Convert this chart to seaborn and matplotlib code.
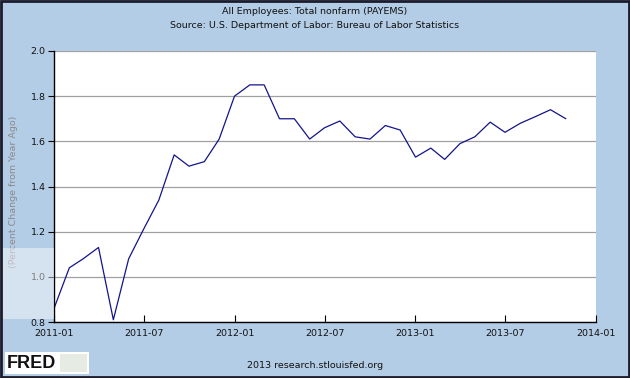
import matplotlib
matplotlib.use("Agg")
import matplotlib.pyplot as plt
import matplotlib.dates as mdates
from matplotlib.patches import Rectangle
import seaborn as sns
import pandas as pd

months = pd.date_range("2011-01-01", "2013-11-01", freq="MS")
values = [0.86, 1.04, 1.08, 1.13, 0.81, 1.08, 1.21, 1.34, 1.54, 1.49, 1.51, 1.61,
          1.80, 1.85, 1.85, 1.70, 1.70, 1.61, 1.66, 1.69, 1.62, 1.61, 1.67, 1.65,
          1.53, 1.57, 1.52, 1.59, 1.62, 1.685, 1.64, 1.68, 1.71, 1.74, 1.70]
title_lines = ["All Employees: Total nonfarm (PAYEMS)",
               "Source: U.S. Department of Labor: Bureau of Labor Statistics"]
y_label = "(Percent Change from Year Ago)"
y_ticks = [0.8, 1.0, 1.2, 1.4, 1.6, 1.8, 2.0]
x_ticks = pd.to_datetime(["2011-01-01", "2011-07-01", "2012-01-01", "2012-07-01",
                          "2013-01-01", "2013-07-01", "2014-01-01"])
footer = "2013 research.stlouisfed.org"

df = pd.DataFrame({"date": months, "value": values})

sns.set_style("white")
plt.rcParams["font.family"] = ["DejaVu Sans"]
bg = "#B4CDE6"
fs = 6.8
fig = plt.figure(figsize=(6.3, 3.78), dpi=100, facecolor=bg)
ax = fig.add_axes([54/630, 1-322/378, (596-54)/630, (322-51)/378])
ax.set_facecolor("white")

sns.lineplot(data=df, x="date", y="value", ax=ax, color="#14148a", linewidth=0.9)

ax.set_xlim(pd.Timestamp("2011-01-01"), pd.Timestamp("2014-01-01"))
ax.set_ylim(0.8, 2.0)
ax.set_yticks(y_ticks)
ax.set_yticklabels([f"{v:.1f}" for v in y_ticks])
ax.set_xticks(x_ticks)
ax.xaxis.set_major_formatter(mdates.DateFormatter("%Y-%m"))
ax.grid(axis="y", color="#a0a0a0", linewidth=0.9)
ax.set_axisbelow(True)

for s in ["top", "right"]:
    ax.spines[s].set_visible(False)
for s in ["left", "bottom"]:
    ax.spines[s].set_visible(True)
    ax.spines[s].set_color("black")
    ax.spines[s].set_linewidth(1.0)

ax.tick_params(axis="x", direction="in", length=5, width=0.8, color="black",
               labelsize=fs, pad=5, bottom=True, labelcolor="#111111")
ax.tick_params(axis="y", direction="out", length=4, width=0.8, color="black",
               labelsize=fs, pad=2, left=True, labelcolor="#111111")
ax.set_xlabel("")
ax.set_ylabel(y_label, color="#8a8a8a", fontsize=fs)
ax.yaxis.set_label_coords(-(54 - 18) / 542, 0.48)

fig.text(0.5, 1-11/378, title_lines[0], ha="center", va="center", fontsize=fs, color="#111111")
fig.text(0.5, 1-25/378, title_lines[1], ha="center", va="center", fontsize=fs, color="#111111")
fig.text(315/630, 1-365/378, footer, ha="center", va="center", fontsize=fs, color="#111111")

# FRED logo
fig.patches.append(Rectangle((5/630, 1-374/378), 84/630, 22/378, transform=fig.transFigure,
                             facecolor="white", edgecolor="none", zorder=5))
fig.patches.append(Rectangle((60/630, 1-372/378), 27/630, 18/378, transform=fig.transFigure,
                             facecolor="#e6ece4", edgecolor="none", zorder=5))
fig.text(7/630, 1-363.5/378, "FRED", ha="left", va="center", fontsize=13,
         fontweight="bold", family=["Liberation Sans", "DejaVu Sans"], color="#111111", zorder=6)
# semi-transparent overlay
fig.patches.append(Rectangle((0, 1-319/378), 54/630, 71/378, transform=fig.transFigure,
                             facecolor="white", alpha=0.45, edgecolor="none", zorder=7))
# figure border
fig.patches.append(Rectangle((0.001, 0.002), 0.997, 0.996, transform=fig.transFigure,
                             facecolor="none", edgecolor="#1b1b2b", linewidth=2, zorder=10))

fig.savefig("out.png", dpi=100, facecolor=bg)
